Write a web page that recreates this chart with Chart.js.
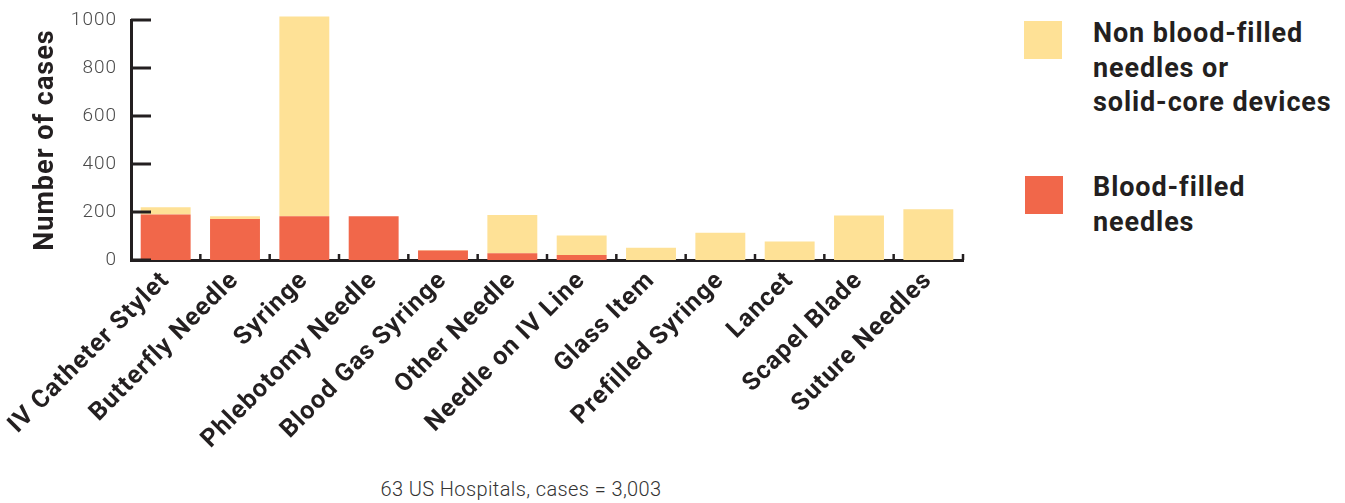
<!DOCTYPE html>
<html>
<head>
<meta charset="utf-8">
<script src="https://cdn.jsdelivr.net/npm/chart.js@4.4.1/dist/chart.umd.min.js"></script>
<style>
  body { margin: 0; background: #fff; font-family: Roboto, sans-serif; color: #231F20; }
  #wrap { position: relative; width: 1345px; height: 503px; }
  #box { position: absolute; left: 0; top: 0; width: 1000px; height: 470px; }
  .key { position: absolute; width: 38px; height: 38px; }
  .ktext { position: absolute; left: 1093px; font-weight: 700; font-size: 27px; line-height: 34.5px; letter-spacing: 0.9px; white-space: nowrap; }
  #note { position: absolute; left: 0; width: 1042px; top: 477px; text-align: center; font-size: 20px; font-weight: 300; letter-spacing: 0.4px; color: #333; }
</style>
</head>
<body>
<div id="wrap">
  <div id="box"><canvas id="myChart"></canvas></div>
  <div class="key" style="left:1024px; top:21px; background:#FEE196"></div>
  <div class="ktext" style="top:16px">Non blood-filled<br>needles or<br>solid-core devices</div>
  <div class="key" style="left:1025px; top:176px; background:#F1674A"></div>
  <div class="ktext" style="top:170px">Blood-filled<br>needles</div>
  <div id="note">63 US Hospitals, cases = 3,003</div>
</div>
<script>
  const labels = ['IV Catheter Stylet', 'Butterfly Needle', 'Syringe', 'Phlebotomy Needle', 'Blood Gas Syringe',
    'Other Needle', 'Needle on IV Line', 'Glass Item', 'Prefilled Syringe', 'Lancet', 'Scapel Blade', 'Suture Needles'];
  const bloodFilled = [190, 171, 182, 182, 40, 28, 21, 0, 0, 0, 0, 0];
  const nonBloodFilled = [30, 11, 833, 0, 2, 159, 81, 51, 114, 77, 185, 211];
  const yTicks = [0, 200, 400, 600, 800, 1000];

  const ink = '#231F20';

  // wider letter spacing for the canvas text (the print font runs wide)
  const spacing = {
    id: 'spacing',
    beforeDraw(chart) { chart.ctx.letterSpacing = '1px'; }
  };

  // short tick marks drawn inside the plot, as in the print version
  const innerTicks = {
    id: 'innerTicks',
    afterDatasetsDraw(chart) {
      const {ctx, chartArea, scales: {x, y}} = chart;
      ctx.save();
      ctx.strokeStyle = ink;
      ctx.lineWidth = 3;
      yTicks.forEach(v => {
        const py = y.getPixelForValue(v);
        ctx.beginPath();
        ctx.moveTo(chartArea.left, py);
        ctx.lineTo(chartArea.left + 20, py);
        ctx.stroke();
      });
      ctx.lineWidth = 2.5;
      for (let i = 1; i <= labels.length; i++) {
        const px = x.getPixelForValue(i - 0.5);
        ctx.beginPath();
        ctx.moveTo(px, chartArea.bottom);
        ctx.lineTo(px, chartArea.bottom - 6);
        ctx.stroke();
      }
      ctx.restore();
    }
  };

  const data = {
    labels: labels,
    datasets: [{
      label: 'Blood-filled needles',
      backgroundColor: '#F1674A',
      data: bloodFilled,
      clip: false
    }, {
      label: 'Non blood-filled needles or solid-core devices',
      backgroundColor: '#FEE196',
      data: nonBloodFilled,
      clip: false
    }]
  };

  const config = {
    type: 'bar',
    data: data,
    plugins: [spacing, innerTicks],
    options: {
      responsive: true,
      maintainAspectRatio: false,
      animation: false,
      barPercentage: 0.72,
      categoryPercentage: 1,
      layout: { padding: { top: 20, right: 37, left: 0, bottom: 0 } },
      plugins: { legend: { display: false }, tooltip: { enabled: false } },
      scales: {
        x: {
          stacked: true,
          grid: { display: false, drawTicks: false },
          border: { display: true, color: ink, width: 3 },
          ticks: {
            autoSkip: false,
            minRotation: 45,
            maxRotation: 45,
            padding: 6,
            color: ink,
            font: { family: 'Roboto', weight: 'bold', size: 25 }
          },
          afterFit(scale) {
            scale.height = 210;
            scale.paddingLeft = 0;
            scale.paddingRight = 0;
          }
        },
        y: {
          stacked: true,
          min: 0,
          max: 1000,
          grid: { display: false, drawTicks: false },
          border: { display: true, color: ink, width: 3 },
          ticks: {
            stepSize: 200,
            padding: 14,
            color: '#4a4a4a',
            font: { family: 'Roboto', weight: '300', size: 19 },
            callback: v => String(v)
          },
          title: {
            display: true,
            text: 'Number of cases',
            color: ink,
            padding: { top: 30, bottom: 0 },
            font: { family: 'Roboto', weight: 'bold', size: 27 }
          },
          afterFit(scale) {
            scale.width = 131;
            scale.paddingTop = 0;
            scale.paddingBottom = 0;
          }
        }
      }
    }
  };

  const myChart = new Chart(document.getElementById('myChart'), config);
</script>
</body>
</html>
